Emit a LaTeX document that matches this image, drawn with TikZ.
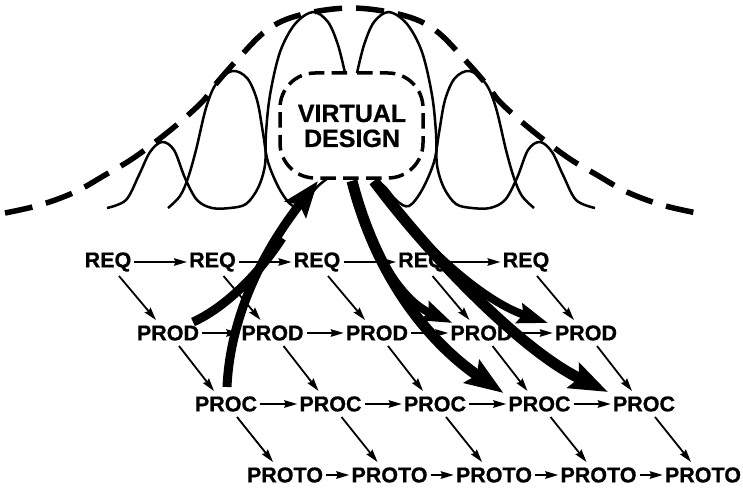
\documentclass[tikz,border=0pt]{standalone}
\usepackage{fontspec}
\setmainfont{Liberation Sans}
\newfontfamily\heavyfont[BoldFeatures={FakeBold=0.7}]{Liberation Sans}
\usetikzlibrary{arrows.meta,calc}
\begin{document}
\begin{tikzpicture}[x=1pt,y=-1pt,
  lbl/.style={font=\heavyfont\fontsize{21.5}{22}\selectfont\bfseries, inner sep=0pt},
  vdtext/.style={font=\heavyfont\fontsize{25}{25}\selectfont\bfseries, inner sep=0pt, align=center},
  gridarrow/.style={line width=1.8pt, shorten <=3pt, shorten >=2pt, -{Stealth[length=13pt,width=7.5pt,inset=1.5pt]}},
  diagarrow/.style={line width=1.8pt, -{Stealth[length=13pt,width=7.5pt,inset=1.5pt]}},
  bigdash/.style={line width=5.5pt, dash pattern=on 28pt off 14pt},
  boxdash/.style={line width=3.5pt, dash pattern=on 15.5pt off 7.3pt, rounded corners=35pt},
  loop/.style={line width=2.5pt},
  tail/.style={line width=9pt},
  upflow/.style={line width=9pt, -{Stealth[length=36pt,width=26pt,inset=6pt]}},
  bigflow/.style={line width=11pt, -{Stealth[length=38pt,width=27pt,inset=6pt]}},
  midflow/.style={line width=8pt, -{Stealth[length=30pt,width=20pt,inset=4pt]}}
]
\useasboundingbox (0,0) rectangle (743,489);

% big dashed bell curve
\draw[bigdash] plot[smooth, tension=0.6] coordinates {
 (5,213) (40,205) (75,192) (105,175) (135,157) (173,128) (202,102) (215,85)
 (237,60) (267,30) (300,15) (351,8) (402,15) (435,30) (465,60) (487,85)
 (500,102) (529,128) (567,157) (597,175) (627,192) (662,205) (697,213)};

% solid loops, left side and its mirror image
\foreach \s/\o in {1/0,-1/702}{
 \begin{scope}[shift={(\o,0)}, xscale=\s]
  \draw[loop] plot[smooth, tension=0.55] coordinates {
   (107,208) (126,200) (139,175) (150,152) (162,142) (174,150) (185,178)
   (197,200) (212,208) (230,208) (246,204) (258,188) (265,165) (266,133)
   (270,95) (280,52) (295,24) (313,12) (328,22) (338,45) (345,73)};
  \draw[loop] plot[smooth, tension=0.55] coordinates {
   (168,208) (180,196) (188,178) (196,150) (206,108) (216,84) (232,71)
   (247,78) (257,100) (263,133) (268,162) (280,190) (293,206) (305,201)
   (317,187) (328,178)};
 \end{scope}
}

% virtual design box
\draw[boxdash] (357,73) -- (423,73) -- (423,178) -- (280,178) -- (280,73) -- (347,73);
\node[vdtext] (vd) at (352,126) {VIRTUAL\\DESIGN};
\coordinate (vdIn) at (318,181);
\coordinate (vdL) at (352,181);
\coordinate (vdR) at (374,181);

% grid of labels
\foreach \i in {0,...,4}{
  \node[lbl] (r\i) at ({108+104.5*\i},262) {REQ};
  \node[lbl] (d\i) at ({168+104.5*\i},333) {PROD};
  \node[lbl] (c\i) at ({226+104.5*\i},404) {PROC};
  \node[lbl] (t\i) at ({285+104.5*\i},475) {PROTO};
}
\foreach \i [evaluate=\i as \j using int(\i+1)] in {0,...,3}{
  \draw[gridarrow] (r\i.east) -- (r\j.west);
  \draw[gridarrow] (d\i.east) -- (d\j.west);
  \draw[gridarrow] (c\i.east) -- (c\j.west);
  \draw[gridarrow] (t\i.east) -- (t\j.west);
}
\foreach \i in {0,...,4}{
  \draw[diagarrow] ($(r\i)+(11,14)$) -- ($(d\i)+(-12,-13)$);
  \draw[diagarrow] ($(d\i)+(11,13)$) -- ($(c\i)+(-12,-13)$);
  \draw[diagarrow] ($(c\i)+(11,13)$) -- ($(t\i)+(-12,-13)$);
}

% thick flows
\coordinate (tA) at ($(c0)+(1,-17)$);
\coordinate (tB) at ($(d0)+(25,-11)$);
\draw[tail] (tB) .. controls (220,310) and (255,280) .. (282,238);
\draw[upflow] (tA) .. controls (230,320) and (260,255) .. (vdIn);

\draw[midflow] (vdL) .. controls (378,275) and (412,305) .. ($(d3)+(-29,-10)$);
\draw[bigflow] (vdL) .. controls (380,290) and (440,350) .. ($(c3)+(-36,-11)$);
\draw[midflow] (vdR) .. controls (415,240) and (480,300) .. ($(d4)+(-38,-10)$);
\draw[bigflow] (vdR) .. controls (425,250) and (520,350) .. ($(c4)+(-36,-12)$);
\end{tikzpicture}
\end{document}
